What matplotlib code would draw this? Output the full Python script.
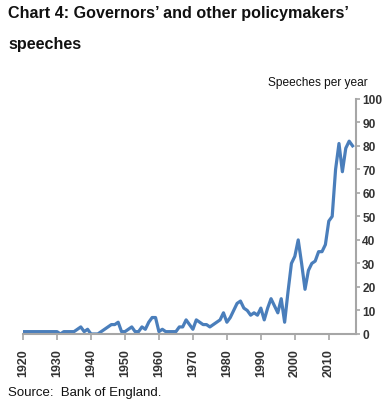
import matplotlib
matplotlib.use("Agg")
import matplotlib.pyplot as plt
import numpy as np

years = list(range(1920, 2018))
speeches = [1, 1, 1, 1, 1, 1, 1, 1, 1, 1,   # 1920-1929
            1, 0, 1, 1, 1, 1, 2, 3, 1, 2,   # 1930-1939
            0, 0, 0, 1, 2, 3, 4, 4, 5, 1,   # 1940-1949
            1, 2, 3, 1, 1, 3, 2, 5, 7, 7,   # 1950-1959
            1, 2, 1, 1, 1, 1, 3, 3, 6, 4,   # 1960-1969
            2, 6, 5, 4, 4, 3, 4, 5, 6, 9,   # 1970-1979
            5, 7, 10, 13, 14, 11, 10, 8, 9, 8,   # 1980-1989
            11, 6, 11, 15, 12, 9, 15, 5, 18, 30,  # 1990-1999
            33, 40, 30, 19, 27, 30, 31, 35, 35, 38,  # 2000-2009
            48, 50, 70, 81, 69, 79, 82, 80]  # 2010-2017

xticks = list(range(1920, 2011, 10))
yticks = list(range(0, 101, 10))

title = "Chart 4: Governors\u2019 and other policymakers\u2019\nspeeches"
ylabel = "Speeches per year"
source = "Source:  Bank of England."

plt.rcParams['font.family'] = ['Liberation Sans', 'DejaVu Sans']

fig = plt.figure(figsize=(3.84, 4.02), dpi=100)
ax = fig.add_axes([0.060, 0.1667, 0.867, 0.585])

ax.plot(years, speeches, color='#4a7ebb', linewidth=2.3, solid_joinstyle='round')
ax.set_xlim(1920, 2018)
ax.set_ylim(0, 100)

ax.yaxis.tick_right()
ax.set_yticks(yticks)
ax.set_xticks(xticks)
ax.set_xticklabels([str(t) for t in xticks], rotation=90)

for s in ['top', 'left']:
    ax.spines[s].set_visible(False)
for s in ['right', 'bottom']:
    ax.spines[s].set_color('#a6a6a6')
    ax.spines[s].set_linewidth(1.5)

ax.tick_params(axis='y', direction='out', length=3, width=1.2, color='#a6a6a6',
               labelsize=8.6, labelcolor='#333333', pad=1.5)
ax.tick_params(axis='x', direction='out', length=4, width=1.2, color='#a6a6a6',
               labelsize=9, labelcolor='#333333', pad=6)
for lab in ax.get_xticklabels() + ax.get_yticklabels():
    lab.set_fontweight('bold')

fig.text(8 / 384, 1 - 6 / 402, title, ha='left', va='top', fontsize=11.6,
         fontweight='bold', linespacing=2.3, color='#111111')
fig.text(368 / 384, 1 - 83 / 402, ylabel, ha='right', va='center', fontsize=8.6,
         color='#111111')
fig.text(8 / 384, 1 - 393 / 402, source, ha='left', va='center', fontsize=9.5,
         color='#111111')

fig.savefig("out.png", dpi=100)
